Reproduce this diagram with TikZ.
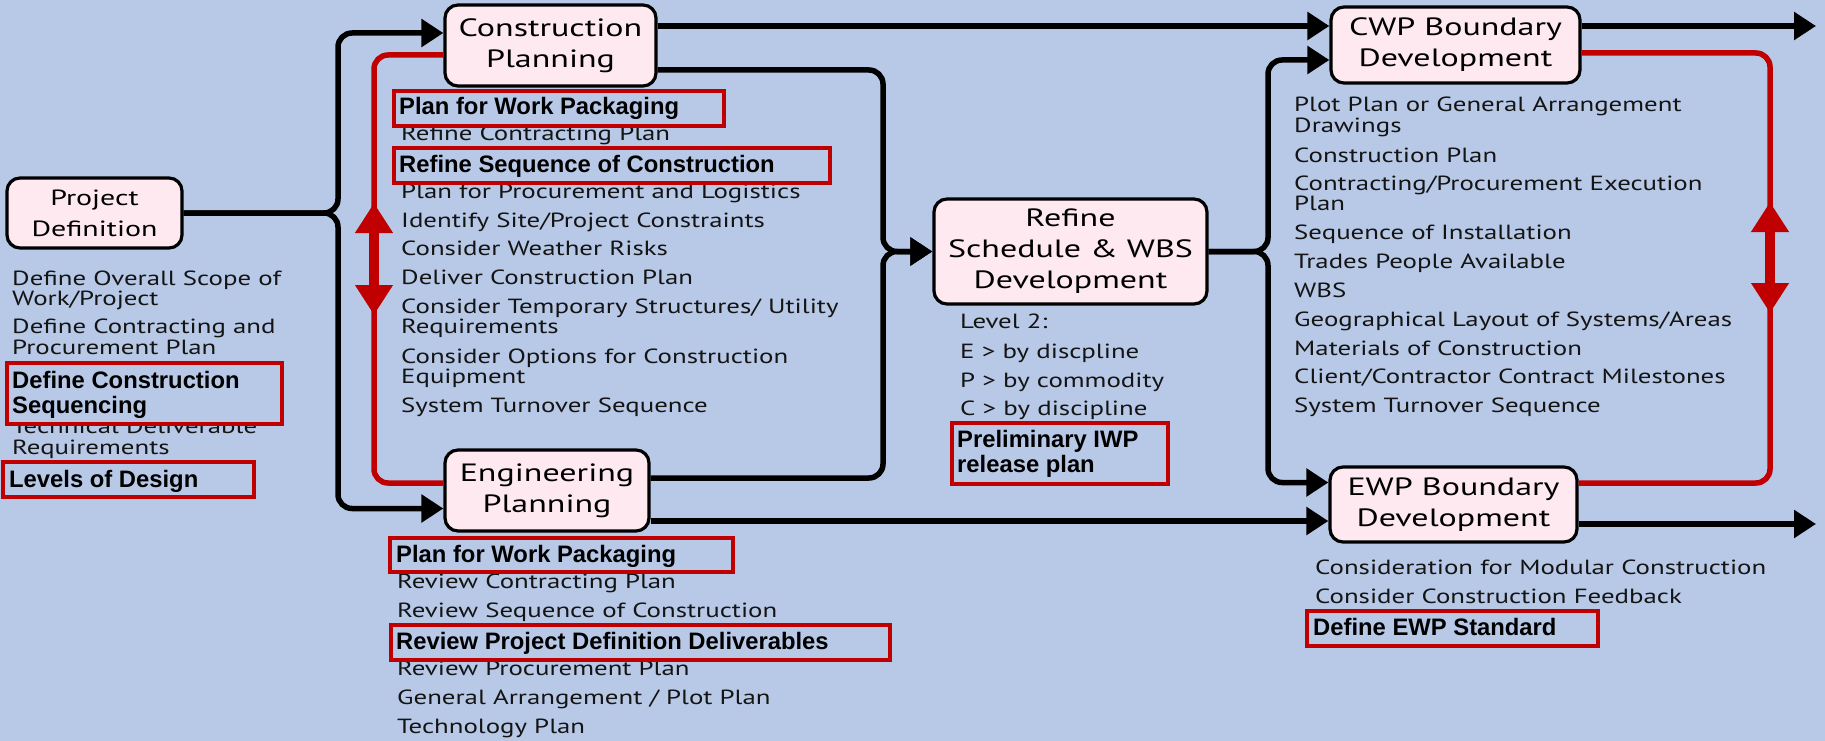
\documentclass[tikz,border=0pt]{standalone}
\usepackage{fontspec}
\usetikzlibrary{arrows.meta}
\newfontfamily\lstfont[FakeStretch=1.31]{PT Sans}
\newfontfamily\boxfont[FakeStretch=1.36]{PT Sans}
\newfontfamily\hlfont{Liberation Sans}
\definecolor{bg}{RGB}{184,201,231}
\definecolor{pinkfill}{RGB}{253,233,239}
\definecolor{redc}{RGB}{192,0,0}
\definecolor{txt}{RGB}{20,20,20}
\tikzset{
  stage/.style={draw=black, line width=3.2pt, fill=pinkfill, rounded corners=13pt,
    align=center, inner sep=0pt, font=\boxfont\fontsize{25}{31}\selectfont},
  lst/.style={anchor=base west, inner sep=0pt, text=txt, font=\lstfont\fontsize{20.5}{20}\selectfont},
  hl/.style={anchor=base west, inner sep=0pt, text=black, font=\hlfont\bfseries\fontsize{23.8}{25}\selectfont},
  hlbox/.style={draw=redc, line width=3.2pt, fill=bg, inner sep=0pt},
  conn/.style={line width=5.5pt, rounded corners=14pt, -{Triangle[length=22pt,width=27pt]}},
  redline/.style={draw=redc, line width=5.5pt, rounded corners=14pt},
  redarrow/.style={draw=redc, line width=10.5pt,
    {Triangle[length=30pt,width=36pt]}-{Triangle[length=30pt,width=36pt]}}
}
\begin{document}
\begin{tikzpicture}[x=1pt,y=-1pt]
\useasboundingbox (0,0) rectangle (1825,741);
\fill[bg] (0,0) rectangle (1825,741);

% stages
\node[stage, minimum width=175pt, minimum height=70pt, font=\boxfont\fontsize{22}{31}\selectfont] (PD) at (94.5,213) {Project\\Definition};
\node[stage, minimum width=211pt, minimum height=81pt] (CP) at (550.5,45.5) {Construction\\Planning};
\node[stage, minimum width=204pt, minimum height=81pt] (EP) at (547,490.5) {Engineering\\Planning};
\node[stage, minimum width=273pt, minimum height=105pt] (R) at (1070.5,251.5) {Refine\\Schedule \& WBS\\Development};
\node[stage, minimum width=249pt, minimum height=76pt] (CWP) at (1455.5,45) {CWP Boundary\\Development};
\node[stage, minimum width=247pt, minimum height=75pt] (EWP) at (1453.5,504.5) {EWP Boundary\\Development};

% connector anchors
\coordinate (cpin) at ([yshift=12.5pt]CP.west);
\coordinate (cpred) at ([yshift=-9.5pt]CP.west);
\coordinate (cpout1) at ([yshift=19.5pt]CP.east);
\coordinate (cpout2) at ([yshift=-24.5pt]CP.east);
\coordinate (epin) at ([yshift=-18pt]EP.west);
\coordinate (epred) at ([yshift=7.5pt]EP.west);
\coordinate (epout1) at ([yshift=12.5pt]EP.east);
\coordinate (epout2) at ([yshift=-30.5pt]EP.east);
\coordinate (cwpin1) at (cpout1 -| CWP.west);
\coordinate (cwpin2) at ([yshift=-15pt]CWP.west);
\coordinate (cwpout) at ([yshift=19pt]CWP.east);
\coordinate (cwpred) at ([yshift=-8pt]CWP.east);
\coordinate (ewpin1) at ([yshift=22pt]EWP.west);
\coordinate (ewpin2) at (epout2 -| EWP.west);
\coordinate (ewpred) at ([yshift=21.5pt]EWP.east);
\coordinate (ewpout) at ([yshift=-19.5pt]EWP.east);
\coordinate (cwpend) at (1816,26);
\coordinate (ewpend) at (1816,524);
\coordinate (j1) at (338,213);
\coordinate (j2) at (883,251.5);
\coordinate (j3) at (1268,251.5);
\coordinate (jrl) at (374,483);
\coordinate (jrr) at (1770,483);
\coordinate (ra1) at (374,203);
\coordinate (ra2) at (374,315);
\coordinate (rb1) at (1770,202);
\coordinate (rb2) at (1770,313);

% black connectors
\draw[conn] (PD.east) -- (j1) |- (cpin);
\draw[conn] (PD.east) -- (j1) |- (epin);
\draw[conn] (cpout2) -| (j2) -- (R.west);
\draw[conn] (epout1) -| (j2) -- (R.west);
\draw[conn] (R.east) -- (j3) |- (cwpin2);
\draw[conn] (R.east) -- (j3) |- (ewpin1);
\draw[conn] (cpout1) -- (cwpin1);
\draw[conn] (epout2) -- (ewpin2);
\draw[conn] (cwpout) -- (cwpend);
\draw[conn] (ewpout) -- (ewpend);

% red loops
\draw[redline] (cpred) -| (jrl) -- (epred);
\draw[redline] (cwpred) -| (jrr) -- (ewpred);
\draw[redarrow] (ra1) -- (ra2);
\draw[redarrow] (rb1) -- (rb2);

% Project Definition list
\node[lst] (pd1) at (12,285) {Define Overall Scope of};
\node[lst] (pd2) at (12,305) {Work/Project};
\node[lst] (pd3) at (12,333) {Define Contracting and};
\node[lst] (pd4) at (12,354) {Procurement Plan};
\node[lst] (pd5) at (12,433) {Technical Deliverable};
\node[lst] (pd6) at (12,454) {Requirements};

% Construction Planning list
\node[lst] (cp1) at (401,140) {Refine Contracting Plan};
\node[lst] (cp2) at (401,198) {Plan for Procurement and Logistics};
\node[lst] (cp3) at (401,227) {Identify Site/Project Constraints};
\node[lst] (cp4) at (401,255) {Consider Weather Risks};
\node[lst] (cp5) at (401,284) {Deliver Construction Plan};
\node[lst] (cp6) at (401,313) {Consider Temporary Structures/ Utility};
\node[lst] (cp7) at (401,333) {Requirements};
\node[lst] (cp8) at (401,363) {Consider Options for Construction};
\node[lst] (cp9) at (401,383) {Equipment};
\node[lst] (cp10) at (401,412) {System Turnover Sequence};

% Engineering Planning list
\node[lst] (ep1) at (397,588) {Review Contracting Plan};
\node[lst] (ep2) at (397,617) {Review Sequence of Construction};
\node[lst] (ep3) at (397,675) {Review Procurement Plan};
\node[lst] (ep4) at (397,704) {General Arrangement / Plot Plan};
\node[lst] (ep5) at (397,733) {Technology Plan};

% Refine list
\node[lst] (r1) at (960,328) {Level 2:};
\node[lst] (r2) at (960,358) {E > by discpline};
\node[lst] (r3) at (960,387) {P > by commodity};
\node[lst] (r4) at (960,415) {C > by discipline};

% CWP list
\node[lst] (c1) at (1294,112) {Plot Plan or General Arrangement};
\node[lst] (c2) at (1294,132) {Drawings};
\node[lst] (c3) at (1294,162) {Construction Plan};
\node[lst] (c4) at (1294,190) {Contracting/Procurement Execution};
\node[lst] (c5) at (1294,210) {Plan};
\node[lst] (c6) at (1294,239) {Sequence of Installation};
\node[lst] (c7) at (1294,268) {Trades People Available};
\node[lst] (c8) at (1294,297) {WBS};
\node[lst] (c9) at (1294,326) {Geographical Layout of Systems/Areas};
\node[lst] (c10) at (1294,355) {Materials of Construction};
\node[lst] (c11) at (1294,383) {Client/Contractor Contract Milestones};
\node[lst] (c12) at (1294,412) {System Turnover Sequence};

% EWP list
\node[lst] (e1) at (1315,574) {Consideration for Modular Construction};
\node[lst] (e2) at (1315,603) {Consider Construction Feedback};

% highlight boxes
\node[hlbox, minimum width=330pt, minimum height=35pt] (hb1) at (559,108.5) {};
\node[hlbox, minimum width=436pt, minimum height=35pt] (hb2) at (612,165.5) {};
\node[hlbox, minimum width=275pt, minimum height=61pt] (hb3) at (144.5,393.5) {};
\node[hlbox, minimum width=251pt, minimum height=35pt] (hb4) at (128.5,479.5) {};
\node[hlbox, minimum width=343pt, minimum height=34pt] (hb5) at (561.5,555) {};
\node[hlbox, minimum width=499pt, minimum height=35pt] (hb6) at (640.5,642.5) {};
\node[hlbox, minimum width=216pt, minimum height=61pt] (hb7) at (1060,453.5) {};
\node[hlbox, minimum width=291pt, minimum height=35pt] (hb8) at (1452.5,628.5) {};

% highlight texts
\node[hl] (h1) at (399,115) {Plan for Work Packaging};
\node[hl] (h2) at (399,172) {Refine Sequence of Construction};
\node[hl] (h3a) at (12,388) {Define Construction};
\node[hl] (h3b) at (12,413) {Sequencing};
\node[hl] (h4) at (9,487) {Levels of Design};
\node[hl] (h5) at (396,562) {Plan for Work Packaging};
\node[hl] (h6) at (396,649) {Review Project Definition Deliverables};
\node[hl] (h7a) at (957,447) {Preliminary IWP};
\node[hl] (h7b) at (957,472) {release plan};
\node[hl] (h8) at (1313,635) {Define EWP Standard};
\end{tikzpicture}
\end{document}
